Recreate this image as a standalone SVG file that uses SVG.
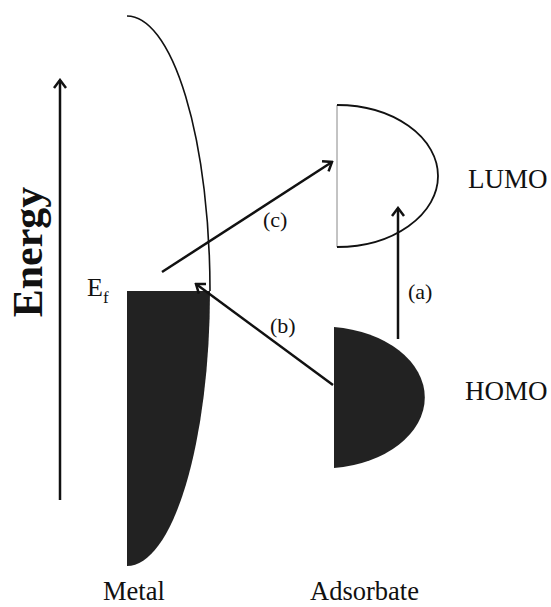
<svg xmlns="http://www.w3.org/2000/svg" width="551" height="607" viewBox="0 0 551 607">
<style>
.t{font-family:"Liberation Serif","Times New Roman",serif;fill:#111}
.arr{stroke:#111;stroke-width:2.5;fill:none;marker-end:url(#ah)}
.dark{fill:#222}
</style>
<defs>
<marker id="ah" markerUnits="userSpaceOnUse" viewBox="-10 -8 12 16" refX="0" refY="0" markerWidth="12" markerHeight="16" orient="auto">
<path d="M-8,-6 L0,0 L-8,6" fill="none" stroke="#111" stroke-width="2.5"/>
</marker>
</defs>
<rect width="551" height="607" fill="#fff"/>
<g id="metal">
<path d="M127,16 A83,275 0 0 1 210,291" fill="none" stroke="#111" stroke-width="1.6"/>
<path class="dark" d="M127,291 L210,291 A83,275 0 0 1 127,566 Z"/>
<text class="t" x="87" y="296" font-size="26">E<tspan font-size="17" dy="7">f</tspan></text>
<text class="t" x="103" y="600" font-size="26.5">Metal</text>
</g>
<g id="lumo">
<line x1="337" y1="105" x2="337" y2="247" stroke="#888" stroke-width="1"/>
<path d="M337,105 A101,71 0 0 1 337,247" fill="none" stroke="#111" stroke-width="1.8"/>
<text class="t" x="468" y="188" font-size="27">LUMO</text>
</g>
<g id="homo">
<path class="dark" d="M334,327 A103,71 0 0 1 334,468 Z"/>
<text class="t" x="465" y="400" font-size="27">HOMO</text>
</g>
<g id="adsorbate">
<text class="t" x="310" y="600" font-size="26.5">Adsorbate</text>
</g>
<g id="energy">
<text class="t" transform="translate(42,252) rotate(-90)" text-anchor="middle" font-size="42" font-weight="bold">Energy</text>
</g>
<g id="connectors">
<path class="arr" d="M60,500 L60,80"/>
<path class="arr" d="M162,272 L332,162"/>
<path class="arr" d="M333,385 L196,284"/>
<path class="arr" d="M398,339 L398,208"/>
<text class="t" x="263" y="227" font-size="22">(c)</text>
<text class="t" x="270" y="333" font-size="22">(b)</text>
<text class="t" x="408" y="299" font-size="22">(a)</text>
</g>
</svg>
